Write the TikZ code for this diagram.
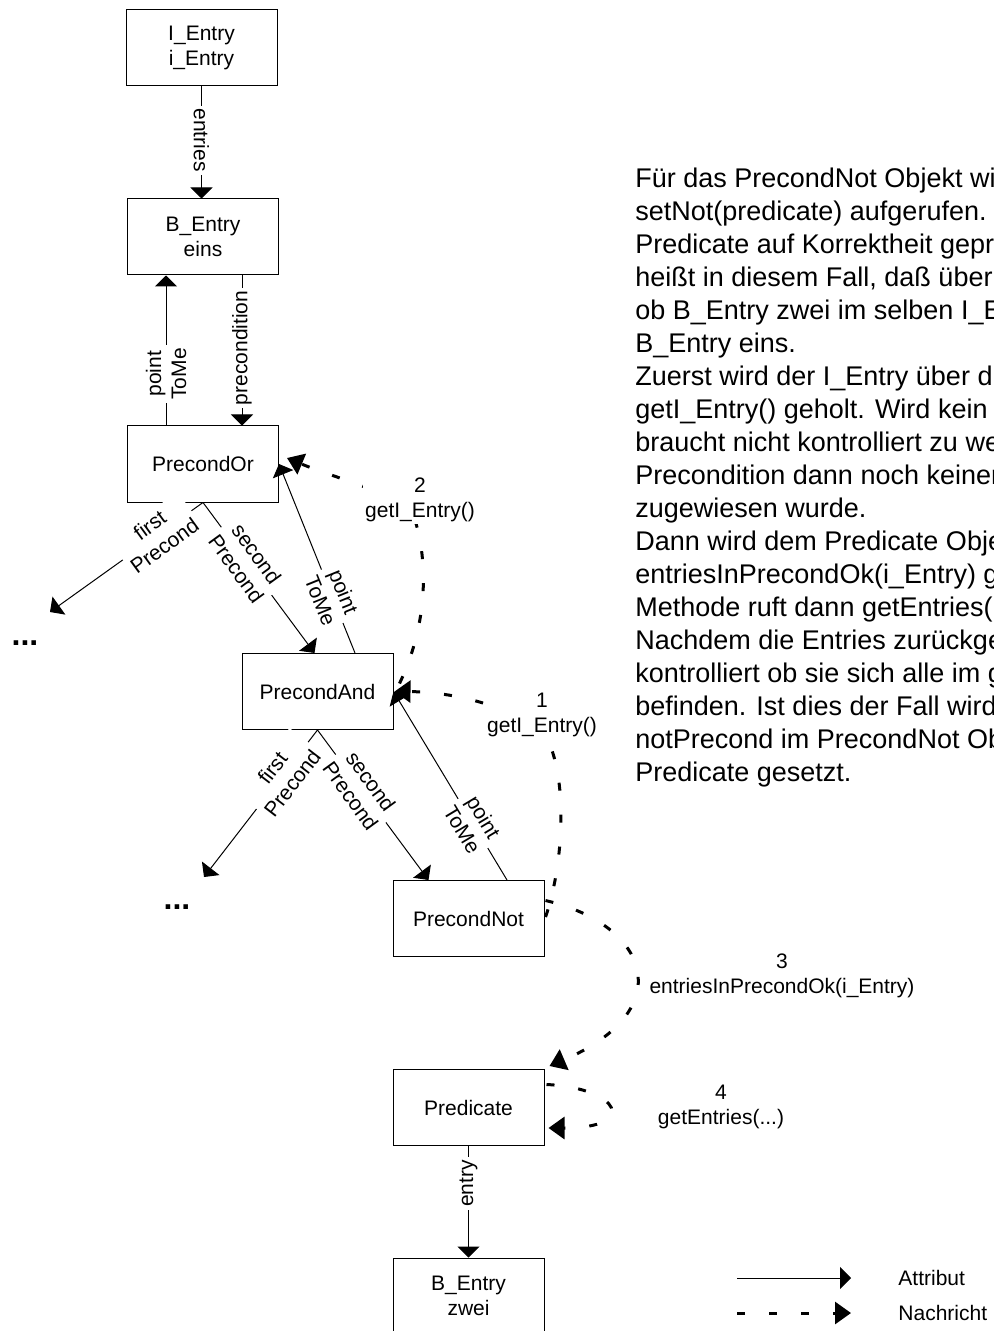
\documentclass[tikz,border=0pt]{standalone}
\usepackage{fontspec}
\setmainfont{Liberation Sans}
\usetikzlibrary{arrows.meta,calc}
\begin{document}
\begin{tikzpicture}[x=0.5pt,y=-0.5pt,
  obj/.style={draw,line width=0.5pt,minimum width=75.5pt,minimum height=38pt,
    inner sep=0pt,align=center,font=\fontsize{10.5}{12.5}\selectfont},
  attr/.style={line width=0.5pt,-{Triangle[length=5.5pt,width=11pt]}},
  msg/.style={line width=1.5pt,dash pattern=on 4pt off 12pt,
    -{Triangle[length=8pt,width=11pt]}},
  elabel/.style={fill=white,inner sep=1.5pt,align=center,
    font=\fontsize{10.5}{12.5}\selectfont},
  mlabel/.style={fill=white,inner sep=1pt,align=center,
    font=\fontsize{10.5}{12.5}\selectfont},
  dots/.style={inner sep=0pt,font=\fontsize{16}{16}\bfseries\selectfont},
  legendtext/.style={anchor=west,inner sep=0pt,font=\fontsize{10.5}{12.5}\selectfont}
  ]
\fill[white] (0,0) rectangle (993,1331);
\useasboundingbox (0,0) rectangle (993,1331);

% objects
\node[obj] (ie)   at (201.5,48)    {I\_Entry\\i\_Entry};
\node[obj] (be1)  at (203,237)     {B\_Entry\\eins};
\node[obj] (por)  at (203,464)     {PrecondOr};
\node[obj] (pand) at (317.5,691.5) {PrecondAnd};
\node[obj] (pnot) at (468.5,918.5) {PrecondNot};
\node[obj] (pred) at (468.5,1107.5){Predicate};
\node[obj] (be2)  at (468.5,1296)  {B\_Entry\\zwei};

\node[dots] (dots1) at (25,643) {...};
\node[dots] (dots2) at (177,907) {...};
\coordinate (tipA) at (50,612);
\coordinate (tipB) at (204,877);

% attributes
\draw[attr] (ie.south) -- node[elabel,pos=0.478,rotate=-90] (lentries) {entries} (ie.south |- be1.north);
\draw[attr] ($(por.north)+(-37,0)$) -- node[elabel,pos=0.344,rotate=90] (lptm1) {point\\ToMe} ($(be1.south)+(-37,0)$);
\draw[attr] ($(be1.south)+(39,0)$) -- node[elabel,pos=0.483,rotate=90] (lprec) {precondition} ($(por.north)+(39,0)$);
\draw[attr] (por.south) -- node[elabel,pos=0.30,rotate=36] (lfp1) {first\\Precond} (tipA);
\draw[attr] (por.south) -- node[elabel,pos=0.39,rotate=-54] (lsp1) {second\\Precond} ($(pand.north)+(-3,0)$);
\draw[attr] ($(pand.north)+(37.5,0)$) -- node[elabel,pos=0.30,rotate=-68] (lptm2) {point\\ToMe} (por.east);
\draw[attr] (pand.south) -- node[elabel,pos=0.31,rotate=52.5] (lfp2) {first\\Precond} (tipB);
\draw[attr] (pand.south) -- node[elabel,pos=0.39,rotate=-54] (lsp2) {second\\Precond} ($(pnot.north)+(-40,0)$);
\draw[attr] ($(pnot.north)+(38.5,0)$) -- node[elabel,pos=0.30,rotate=-59] (lptm3) {point\\ToMe} (pand.east);
\draw[attr] (pred.south) -- node[elabel,pos=0.336,rotate=90] (lentry) {entry} (be2.north);

% messages
\draw[msg] ($(pand.east)+(6,-8)$) .. controls (425,630) and (430,570) .. (415,520)
  .. controls (405,495) and (340,480) .. ($(por.east)+(8,-6)$);
\draw[msg] ($(pnot.east)+(1,-1.5)$) .. controls (562,870) and (568,790) .. (550,745)
  .. controls (540,718) and (470,692) .. ($(pand.east)+(1,0)$);
\draw[msg] ($(pnot.east)+(1,-18)$) .. controls (650,925) and (680,1010) .. ($(pred.north east)+(5,-3)$);
\draw[msg] ($(pred.east)+(2,-23)$) .. controls (620,1088) and (640,1128) .. ($(pred.east)+(4,20.5)$);

\node[mlabel] (m2) at (420,500) {2\\getI\_Entry()};
\node[mlabel] (m1) at (542,715) {1\\getI\_Entry()};
\node[mlabel] (m3) at (782,976) {3\\entriesInPrecondOk(i\_Entry)};
\node[mlabel] (m4) at (721,1107) {4\\getEntries(...)};

% description
\node[anchor=north west,inner sep=0pt,align=left,font=\fontsize{13.5}{16.5}\selectfont] (desc) at (635,168)
{Für das PrecondNot Objekt wi\\
setNot(predicate) aufgerufen. D\\
Predicate auf Korrektheit geprü\\
heißt in diesem Fall, daß überp\\
ob B\_Entry zwei im selben I\_E\\
B\_Entry eins.\\
Zuerst wird der I\_Entry über die\\
getI\_Entry() geholt. Wird kein I\\
braucht nicht kontrolliert zu we\\
Precondition dann noch keiner\\
zugewiesen wurde.\\
Dann wird dem Predicate Obje\\
entriesInPrecondOk(i\_Entry) g\\
Methode ruft dann getEntries(.\\
Nachdem die Entries zurückge\\
kontrolliert ob sie sich alle im g\\
befinden. Ist dies der Fall wird\\
notPrecond im PrecondNot Ob\\
Predicate gesetzt.};

% legend
\coordinate (la1) at (737,1278);
\coordinate (la2) at (851,1278);
\coordinate (ln1) at (737,1313);
\coordinate (ln2) at (851,1313);
\draw[attr] (la1) -- (la2);
\draw[msg] (ln1) -- (ln2);
\node[legendtext] (lat) at (898,1278) {Attribut};
\node[legendtext] (lna) at (898,1313) {Nachricht};
\end{tikzpicture}
\end{document}
